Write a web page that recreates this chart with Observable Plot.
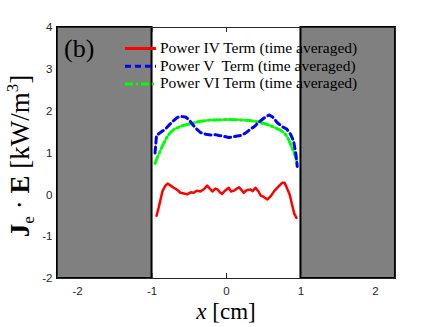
<!DOCTYPE html>
<html>
<head>
<meta charset="utf-8">
<script src="https://cdn.jsdelivr.net/npm/d3@7"></script>
<script src="https://cdn.jsdelivr.net/npm/@observablehq/plot@0.6"></script>
<style>
  html, body { margin: 0; padding: 0; background: white; }
  #chart { position: relative; width: 436px; height: 327px; }
</style>
</head>
<body>
<div id="chart"></div>
<script>
// ---- data ----
const xDomain = [-2.27, 2.27];
const yDomain = [-2, 4];
const xTicks = [-2, -1, 0, 1, 2];
const xTickLabels = ["-2", "-1", "0", "1", "2"];
const yTicks = [-2, -1, 0, 1, 2, 3, 4];
const yTickLabels = ["-2", "-1", "0", "1", "2", "3", "4"];

// shaded (gray) regions outside |x|<1
const regionStart = [-2.27, 1];
const regionEnd = [-1, 2.27];

// Power IV term (red, solid)
const xIV = [-0.94, -0.91, -0.86, -0.82, -0.79, -0.75, -0.71, -0.66, -0.62, -0.57, -0.53, -0.48, -0.44, -0.40, -0.35, -0.30, -0.26, -0.22, -0.19, -0.15, -0.12, -0.09, -0.06, -0.02, 0.03, 0.06, 0.10, 0.13, 0.17, 0.20, 0.23, 0.27, 0.32, 0.35, 0.39, 0.43, 0.46, 0.50, 0.55, 0.60, 0.64, 0.70, 0.75, 0.78, 0.81, 0.85, 0.88, 0.91, 0.94];
const yIV = [-0.50, -0.30, 0.09, 0.22, 0.27, 0.22, 0.17, 0.12, 0.05, 0.03, 0.01, 0.06, 0.05, 0.10, 0.08, 0.14, 0.22, 0.14, 0.08, 0.15, 0.13, 0.06, 0.02, 0.10, 0.17, 0.08, 0.10, 0.14, 0.18, 0.12, 0.05, 0.11, 0.13, 0.09, 0.17, 0.08, -0.02, -0.05, -0.11, -0.02, 0.09, 0.20, 0.29, 0.29, 0.17, 0.00, -0.23, -0.45, -0.55];

// Power V term (blue, dashed)
const xV = [-0.96, -0.94, -0.88, -0.83, -0.78, -0.72, -0.66, -0.60, -0.55, -0.50, -0.46, -0.40, -0.35, -0.28, -0.21, -0.15, -0.10, -0.04, 0.03, 0.10, 0.19, 0.26, 0.32, 0.38, 0.43, 0.50, 0.57, 0.62, 0.68, 0.75, 0.81, 0.86, 0.90, 0.93, 0.95];
const yV = [1.00, 1.42, 1.50, 1.56, 1.65, 1.76, 1.85, 1.87, 1.86, 1.79, 1.69, 1.57, 1.49, 1.45, 1.43, 1.44, 1.42, 1.40, 1.37, 1.39, 1.42, 1.48, 1.57, 1.64, 1.73, 1.83, 1.91, 1.86, 1.73, 1.63, 1.57, 1.45, 1.29, 1.00, 0.68];

// Power VI term (green, dash-dot)
const xVI = [-0.96, -0.91, -0.86, -0.80, -0.75, -0.70, -0.60, -0.48, -0.35, -0.20, 0.00, 0.20, 0.30, 0.41, 0.55, 0.66, 0.72, 0.77, 0.82, 0.86, 0.91, 0.95];
const yVI = [0.75, 0.97, 1.17, 1.38, 1.50, 1.57, 1.65, 1.70, 1.76, 1.79, 1.80, 1.79, 1.78, 1.75, 1.68, 1.60, 1.55, 1.49, 1.38, 1.21, 1.00, 0.78];

const legendLabels = ["Power IV Term (time averaged)", "Power V  Term (time averaged)", "Power VI Term (time averaged)"];
const seriesColors = ["#ff0000", "#0000ff", "#00ff00"];
const seriesDash = [null, "6,4", "8,3,2,3"];

// ---- build tables ----
const regions = regionStart.map((s, i) => ({x1: s, x2: regionEnd[i]}));
const toRows = (xs, ys) => xs.map((x, i) => ({x, y: ys[i]}));
const rowsIV = toRows(xIV, yIV);
const rowsV = toRows(xV, yV);
const rowsVI = toRows(xVI, yVI);

const W = 436, H = 327;
const mL = 57, mR = 41, mT = 27, mB = 49;
const innerH = H - mT - mB, innerW = W - mL - mR;
const tick = 5;

const plot = Plot.plot({
  width: W, height: H,
  marginLeft: mL, marginRight: mR, marginTop: mT, marginBottom: mB,
  x: {domain: xDomain, label: null},
  y: {domain: yDomain, label: null},
  style: {fontFamily: "'Liberation Sans', Arial, sans-serif", fontSize: "11.5px", color: "#262626", background: "white"},
  marks: [
    Plot.axisX(xTicks, {anchor: "bottom", tickSize: 0, tickPadding: 8, label: null, tickFormat: (d) => xTickLabels[xTicks.indexOf(d)], fill: "#262626"}),
    Plot.axisY(yTicks, {anchor: "left", tickSize: 0, tickPadding: 5, label: null, tickFormat: (d) => yTickLabels[yTicks.indexOf(d)], fill: "#262626"}),
    Plot.ruleX(xTicks, {insetTop: innerH - tick, stroke: "#262626"}),
    Plot.ruleX(xTicks, {insetBottom: innerH - tick, stroke: "#262626"}),
    Plot.ruleY(yTicks, {insetRight: innerW - tick, stroke: "#262626"}),
    Plot.ruleY(yTicks, {insetLeft: innerW - tick, stroke: "#262626"}),
    Plot.rect(regions, {x1: "x1", x2: "x2", y1: yDomain[0], y2: yDomain[1], fill: "#808080", stroke: "black", strokeWidth: 2}),
    Plot.frame({stroke: "#262626", strokeWidth: 1}),
    Plot.line(rowsVI, {x: "x", y: "y", stroke: seriesColors[2], strokeWidth: 3, strokeDasharray: seriesDash[2]}),
    Plot.line(rowsV, {x: "x", y: "y", stroke: seriesColors[1], strokeWidth: 3, strokeDasharray: seriesDash[1]}),
    Plot.line(rowsIV, {x: "x", y: "y", stroke: seriesColors[0], strokeWidth: 2.5})
  ]
});

document.getElementById("chart").appendChild(plot);

const svg = d3.select(plot);
const serif = "'Liberation Serif', 'Times New Roman', serif";

// panel label
svg.append("text").attr("x", 64).attr("y", 57).attr("text-anchor", "start")
  .attr("font-family", serif).attr("font-size", 26).attr("fill", "black")
  .text("(b)");

// legend
const lg = svg.append("g");
legendLabels.forEach((lab, i) => {
  const yy = 48.5 + i * 17.7;
  lg.append("line").attr("x1", 125).attr("x2", 156).attr("y1", yy).attr("y2", yy)
    .attr("stroke", seriesColors[i]).attr("stroke-width", 3)
    .attr("stroke-dasharray", seriesDash[i]);
  lg.append("text").attr("x", 160).attr("y", yy + 4.5).attr("text-anchor", "start")
    .attr("font-family", serif).attr("font-size", 15.5).attr("fill", "black")
    .style("white-space", "pre")
    .text(lab);
});

// x label
const xl = svg.append("text").attr("x", 226).attr("y", 319)
  .attr("text-anchor", "middle").attr("font-family", serif).attr("font-size", 23).attr("fill", "black");
xl.append("tspan").attr("font-style", "italic").text("x");
xl.append("tspan").text(" [cm]");

// y label
const yl = svg.append("text").attr("transform", "translate(29,156) rotate(-90)")
  .attr("text-anchor", "middle").attr("font-family", serif).attr("font-size", 27).attr("fill", "black");
yl.append("tspan").attr("font-weight", "bold").text("J");
yl.append("tspan").attr("font-size", 17).attr("dy", 5).text("e");
yl.append("tspan").attr("dy", -5).text(" · ");
yl.append("tspan").attr("font-weight", "bold").text("E");
yl.append("tspan").text(" [kW/m");
yl.append("tspan").attr("font-size", 17).attr("dy", -11).text("3");
yl.append("tspan").attr("dy", 11).text("]");
</script>
</body>
</html>
